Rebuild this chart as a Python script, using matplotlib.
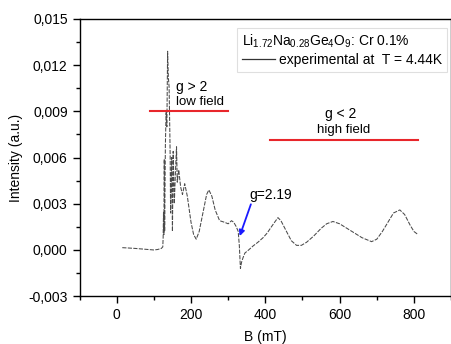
import matplotlib
matplotlib.use("Agg")
import matplotlib.pyplot as plt
from matplotlib.lines import Line2D
from matplotlib.ticker import FuncFormatter, MultipleLocator

plt.rcParams["font.family"] = ["Liberation Sans", "DejaVu Sans"]
plt.rcParams["mathtext.fontset"] = "custom"
plt.rcParams["mathtext.rm"] = "Liberation Sans"
plt.rcParams["mathtext.it"] = "Liberation Sans"

# ── EPR spectrum ────────────────────────────────────────────────────
field = [15, 30, 50, 70, 90, 100, 110, 120, 124,
         125, 126, 127, 128, 129, 131, 133, 135, 137, 139, 141, 143, 144,
         145, 148, 150, 152, 155, 158, 161, 163, 167, 172, 177, 183, 190,
         200, 207, 214, 222, 232, 242, 248, 256, 265, 277, 290, 300, 309,
         315, 322, 327, 330, 333, 336, 340, 345, 355, 367, 380, 394, 405,
         412, 422, 434, 442, 457, 470, 484, 497, 511, 530, 550, 565, 582,
         600, 620, 640, 660, 686, 700, 715, 730, 745, 762, 775, 790, 800, 811]
intensity = [0.00015, 0.00013, 0.0001, 0.00006, 0.00002, 0.0, 0.00003, 0.0001, 0.0002,
             0.0008, 0.0025, 0.0010, 0.0059, 0.0012, 0.0068, 0.0090, 0.0080, 0.0129,
             0.0112, 0.0106, 0.0076, 0.0059, 0.0024, 0.0060, 0.0012, 0.0064, 0.0030,
             0.0050, 0.0067, 0.0044, 0.0052, 0.0041, 0.0036, 0.0043, 0.0035, 0.0018,
             0.0010, 0.0007, 0.0012, 0.0024, 0.0036, 0.0039, 0.0035, 0.0026, 0.0019,
             0.0018, 0.0017, 0.0019, 0.0018, 0.0015, 0.0012, 0.0003, -0.0012, -0.0008,
             -0.0005, -0.0002, 0.0, 0.00026, 0.0005, 0.0008, 0.0011, 0.00135, 0.0017,
             0.0021, 0.0019, 0.0012, 0.0006, 0.0003, 0.0003, 0.0005, 0.0009, 0.0014,
             0.0017, 0.00185, 0.0017, 0.0014, 0.0011, 0.0008, 0.00054, 0.0007, 0.0012,
             0.0018, 0.0024, 0.0026, 0.0023, 0.0016, 0.0012, 0.0010]

# red range markers: (B start, B end, level)
low_range = (89, 299, 0.009)
high_range = (412, 811, 0.00715)

fig = plt.figure(figsize=(4.52, 3.44), dpi=100)
ax = fig.add_axes([0.176, 0.139, 0.822, 0.806])

ax.plot(field, intensity, color="#4a4a4a", lw=0.75, linestyle=(0, (4, 1.3)))

ax.plot(low_range[:2], [low_range[2]] * 2, color="#e8262b", lw=1.5)
ax.plot(high_range[:2], [high_range[2]] * 2, color="#e8262b", lw=1.5)

ax.text(159, 0.0106, "g > 2", fontsize=10, va="center", ha="left")
ax.text(159, 0.0096, "low field", fontsize=9.5, va="center", ha="left")
ax.text(602, 0.0088, "g < 2", fontsize=10, va="center", ha="center")
ax.text(610, 0.0078, "high field", fontsize=9.5, va="center", ha="center")

ax.annotate("g=2.19", xy=(331, 0.0009), xytext=(358, 0.0036),
            fontsize=10, va="center", ha="left",
            arrowprops=dict(arrowstyle="-|>", color="#1a1aff", lw=1.3,
                            mutation_scale=8, shrinkA=0, shrinkB=0,
                            relpos=(0.05, 0.0)))

ax.set_xlim(-100, 900)
ax.set_ylim(-0.003, 0.015)
ax.xaxis.set_major_locator(MultipleLocator(200))
ax.xaxis.set_minor_locator(MultipleLocator(100))
ax.yaxis.set_major_locator(MultipleLocator(0.003))
ax.yaxis.set_minor_locator(MultipleLocator(0.0015))
ax.yaxis.set_major_formatter(FuncFormatter(lambda v, p: f"{v:.3f}".replace(".", ",").replace("-0,000", "0,000")))
ax.tick_params(which="major", direction="out", length=5, width=1, labelsize=10)
ax.tick_params(which="minor", direction="out", length=3, width=1)
for s in ax.spines.values():
    s.set_linewidth(1.0)

ax.set_xlabel("B (mT)", fontsize=10, labelpad=6)
ax.set_ylabel("Intensity (a.u.)", fontsize=10, labelpad=4)

handle = Line2D([], [], color="#333333", lw=0.9)
leg = ax.legend([handle], ["experimental at  T = 4.44K"],
                title=r"Li$_{1.72}$Na$_{0.28}$Ge$_4$O$_9$: Cr 0.1%",
                loc="upper right", bbox_to_anchor=(0.99, 0.968),
                borderaxespad=0.0,
                fontsize=10, title_fontsize=10, frameon=True, fancybox=False,
                handlelength=2.4, handletextpad=0.3, borderpad=0.35,
                labelspacing=0.2)
leg._legend_box.align = "left"
leg.get_frame().set_edgecolor("#d8d8d8")
leg.get_frame().set_linewidth(0.8)

fig.savefig("out.png", dpi=100)
